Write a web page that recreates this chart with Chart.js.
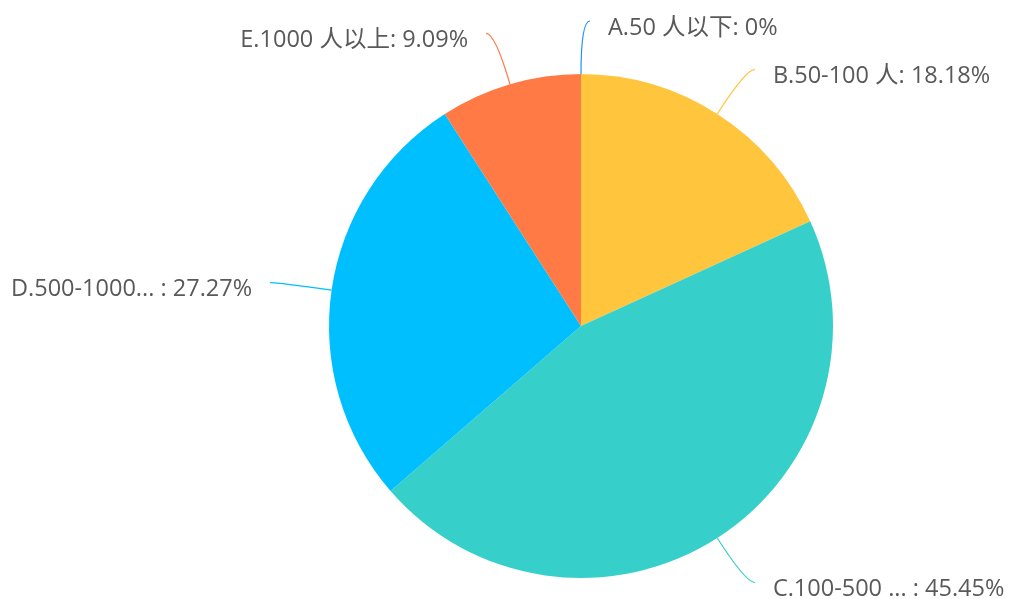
<!DOCTYPE html>
<html>
<head>
<meta charset="utf-8">
<script src="https://cdn.jsdelivr.net/npm/chart.js@4/dist/chart.umd.min.js"></script>
<style>
  html, body { margin: 0; padding: 0; background: #fff; }
  #wrap { width: 1012px; height: 599px; }
</style>
</head>
<body>
<div id="wrap"><canvas id="pieChart"></canvas></div>
<script>
// categories and their counts (percentages 0 / 18.18 / 45.45 / 27.27 / 9.09)
const categories = ['A.50 人以下', 'B.50-100 人', 'C.100-500 ... ', 'D.500-1000... ', 'E.1000 人以上'];
const counts = [0, 2, 5, 3, 1];
const sliceColors = ['#1890FF', '#FFC53D', '#36CFC9', '#00BFFF', '#FF7A45'];

const total = counts.reduce((a, b) => a + b, 0);

// draws echarts-like leader lines + outside labels
const outsideLabels = {
    id: 'outsideLabels',
    afterDraw(chart) {
        const ctx = chart.ctx;
        const arcs = chart.getDatasetMeta(0).data;
        const len1 = 53, len2 = 9, gap = 18;
        ctx.save();
        ctx.font = '23.5px "Open Sans", "Noto Sans CJK SC", sans-serif';
        ctx.textBaseline = 'middle';
        arcs.forEach((arc, i) => {
            const p = arc.getProps(['x', 'y', 'startAngle', 'endAngle', 'outerRadius'], true);
            const mid = (p.startAngle + p.endAngle) / 2;
            const cos = Math.cos(mid), sin = Math.sin(mid);
            const right = cos >= -1e-6;
            const sx = p.x + p.outerRadius * cos, sy = p.y + p.outerRadius * sin;
            const bx = p.x + (p.outerRadius + len1) * cos, by = p.y + (p.outerRadius + len1) * sin;
            const ex = bx + (right ? len2 : -len2), ey = by;

            ctx.strokeStyle = sliceColors[i];
            ctx.lineWidth = 1.2;
            ctx.beginPath();
            ctx.moveTo(sx, sy);
            ctx.quadraticCurveTo(bx, by, ex, ey);
            ctx.stroke();

            const pct = parseFloat((counts[i] / total * 100).toFixed(2));
            const text = categories[i] + ': ' + pct + '%';
            ctx.fillStyle = '#595959';
            ctx.textAlign = right ? 'left' : 'right';
            ctx.fillText(text, ex + (right ? gap : -gap), ey + 7);
        });
        ctx.restore();
    }
};

new Chart(document.getElementById('pieChart'), {
    type: 'pie',
    data: {
        labels: categories,
        datasets: [{
            data: counts,
            backgroundColor: sliceColors,
            borderWidth: 0
        }]
    },
    options: {
        responsive: true,
        maintainAspectRatio: false,
        animation: false,
        layout: { padding: { left: 329, right: 179, top: 74, bottom: 21 } },
        plugins: {
            legend: { display: false },
            tooltip: { enabled: false }
        }
    },
    plugins: [outsideLabels]
});
</script>
</body>
</html>
